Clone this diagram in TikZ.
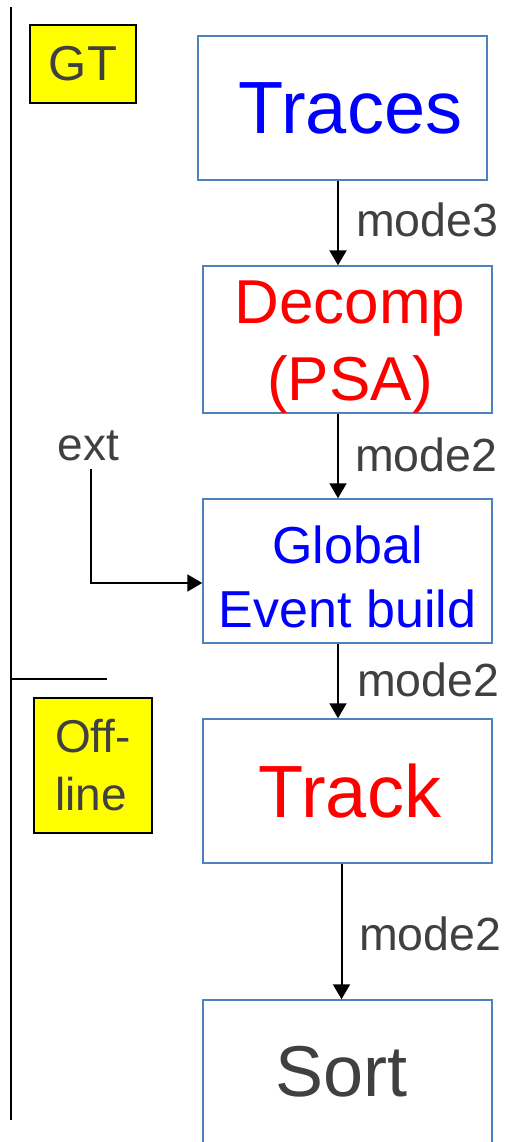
\documentclass[tikz,border=0pt]{standalone}
\usepackage{fontspec}
\setmainfont{Liberation Sans}
\usetikzlibrary{arrows.meta}
\definecolor{boxblue}{HTML}{4F81BD}
\definecolor{txtgray}{HTML}{404040}
\definecolor{pureblue}{HTML}{0000FF}
\definecolor{purered}{HTML}{FF0000}
\definecolor{hiyellow}{HTML}{FFFF00}
\tikzset{
  stagebox/.style={draw=boxblue, line width=1.5pt, fill=white, minimum width=289pt,
    minimum height=144pt, inner sep=0pt, align=center},
  tagbox/.style={draw=black, line width=1.5pt, fill=hiyellow, inner sep=0pt, text=txtgray},
  flow/.style={line width=2pt, -{Triangle[width=17pt,length=15pt]}},
  modelbl/.style={inner sep=0pt, anchor=base west, text=txtgray,
    font=\fontsize{46.5}{56}\selectfont},
  sepline/.style={line width=1.5pt, black}
}
\begin{document}
\begin{tikzpicture}[x=1pt,y=-1pt]
\useasboundingbox (0,0) rectangle (505,1142);

% separators
\draw[sepline] (11,7) -- (11,1120);
\draw[sepline, line width=1.2pt] (11,679) -- (107,679);

% tags
\node[tagbox, minimum width=106pt, minimum height=78pt,
  font=\fontsize{49}{59}\selectfont] (gt) at (83,64) {GT};
\node[tagbox, minimum width=118pt, minimum height=135pt, align=left,
  font=\fontsize{46}{58}\selectfont] (offline) at (93,765.5) {Off-\\line};

% stages
\node[stagebox, text=pureblue, font=\fontsize{74}{89}\selectfont] (traces) at (342.5,108) {\hspace*{16pt}Traces};
\node[stagebox, text=purered, text height=134pt, font=\fontsize{62}{77}\selectfont] (decomp) at (347.5,339.5) {\hspace*{5pt}Decomp\\\hspace*{5pt}(PSA)};
\node[stagebox, text=pureblue, text height=114pt, font=\fontsize{52}{64}\selectfont] (global) at (347.5,571) {Global\\Event build};
\node[stagebox, text=purered, font=\fontsize{74}{89}\selectfont] (track) at (347.5,791) {\hspace*{5pt}Track};
\node[stagebox, text=txtgray, font=\fontsize{72}{86}\selectfont] (sort) at (347.5,1072) {Sort\hspace*{12pt}};

% ext input
\node[inner sep=0pt, anchor=base, text=txtgray, font=\fontsize{46}{56}\selectfont] (ext) at (88.5,460) {ext};

% connectors
\draw[flow] ([xshift=-4.5pt]traces.south) -- ([xshift=-4.5pt]traces.south |- decomp.north)
  node[modelbl, pos=0.655, xshift=17pt] {mode3};
\draw[flow] ([xshift=-9.5pt]decomp.south) -- ([xshift=-9.5pt]decomp.south |- global.north)
  node[modelbl, pos=0.678, xshift=16pt] {mode2};
\draw[flow] ([xshift=-9.5pt]global.south) -- ([xshift=-9.5pt]global.south |- track.north)
  node[modelbl, pos=0.71, xshift=18pt] {mode2};
\draw[flow] ([xshift=-6pt]track.south) -- ([xshift=-6pt]track.south |- sort.north)
  node[modelbl, pos=0.642, xshift=16.5pt] {mode2};
\draw[flow] ([xshift=2.5pt,yshift=-8pt]ext.south) |- ([yshift=-12pt]global.west);
\end{tikzpicture}
\end{document}
